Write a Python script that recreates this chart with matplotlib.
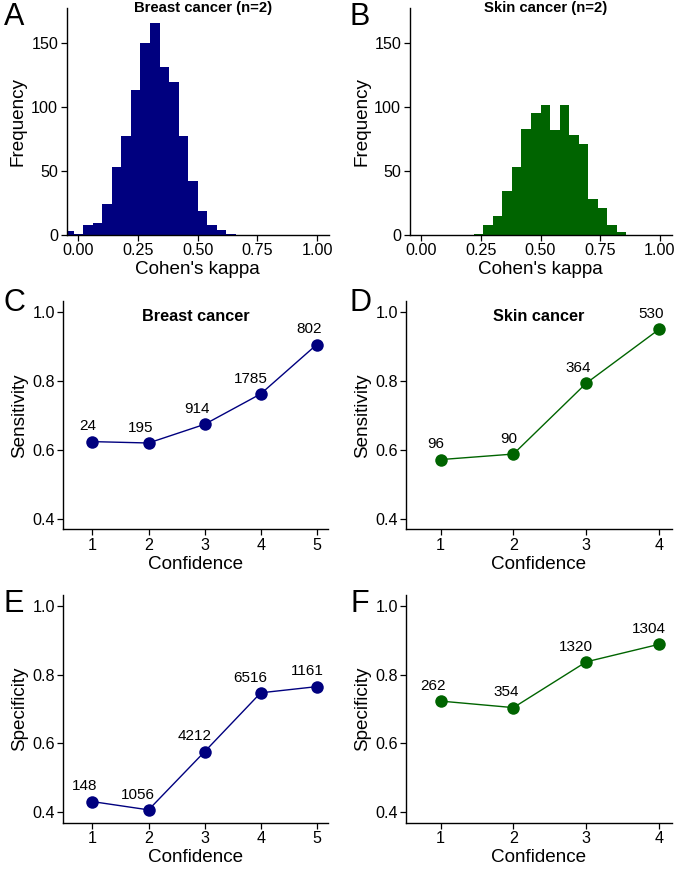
import numpy as np
import matplotlib
matplotlib.use("Agg")
import matplotlib.pyplot as plt

plt.rcParams["font.family"] = ["Liberation Sans", "DejaVu Sans"]

# ── data ───────────────────────────────────────────────────────────────────
BIN_W = 0.04
BREAST_EDGE0 = -0.06
BREAST_COUNTS = [3, 1, 8, 9, 24, 53, 77, 113, 150, 165, 131, 119, 77, 42, 19, 8, 4, 1]
SKIN_EDGE0 = 0.22
SKIN_COUNTS = [1, 8, 15, 34, 53, 83, 95, 101, 82, 101, 78, 71, 28, 21, 8, 2]

BREAST_CONF = [1, 2, 3, 4, 5]
BREAST_SENS = [0.624, 0.620, 0.674, 0.762, 0.905]
BREAST_SENS_N = [24, 195, 914, 1785, 802]
BREAST_SPEC = [0.431, 0.407, 0.576, 0.747, 0.765]
BREAST_SPEC_N = [148, 1056, 4212, 6516, 1161]

SKIN_CONF = [1, 2, 3, 4]
SKIN_SENS = [0.572, 0.588, 0.793, 0.949]
SKIN_SENS_N = [96, 90, 364, 530]
SKIN_SPEC = [0.723, 0.704, 0.837, 0.888]
SKIN_SPEC_N = [262, 354, 1320, 1304]

NAVY = "#00007f"
GREEN = "#006400"

W, H = 677, 869
fig = plt.figure(figsize=(W / 100, H / 100), dpi=100)


def px_axes(left, right, top, bottom):
    return fig.add_axes([left / W, 1 - bottom / H, (right - left) / W, (bottom - top) / H])


def style(ax):
    for s in ("top", "right"):
        ax.spines[s].set_visible(False)
    for s in ("left", "bottom"):
        ax.spines[s].set_linewidth(1.0)
        ax.spines[s].set_color("black")
    ax.tick_params(length=4, width=0.9, labelsize=11.6, colors="black", pad=2)


def letter(txt, x_px, y_px):
    fig.text(x_px / W, 1 - y_px / H, txt, fontsize=22, ha="center", va="center")


# ── histograms ─────────────────────────────────────────────────────────────
hist_specs = [
    (66.5, 329, BREAST_EDGE0, BREAST_COUNTS, NAVY, "Breast cancer (n=2)", "A", 14),
    (409.5, 671.5, SKIN_EDGE0, SKIN_COUNTS, GREEN, "Skin cancer (n=2)", "B", 360),
]
for left, right, e0, counts, col, title, let, lx in hist_specs:
    ax = px_axes(left, right, 8, 235)
    lefts = e0 + BIN_W * np.arange(len(counts))
    ax.bar(lefts, counts, width=BIN_W, align="edge", color=col, linewidth=0)
    ax.set_xlim(-0.05, 1.05)
    ax.set_ylim(0, 177)
    ax.set_xticks([0, 0.25, 0.5, 0.75, 1.0])
    ax.set_xticklabels(["0.00", "0.25", "0.50", "0.75", "1.00"])
    ax.set_yticks([0, 50, 100, 150])
    ax.set_xlabel("Cohen's kappa", fontsize=13.6, labelpad=2)
    ax.set_ylabel("Frequency", fontsize=13.6, labelpad=3)
    ax.text(0.52, 1.0, title, transform=ax.transAxes, ha="center", va="center",
            fontsize=10.7, fontweight="bold")
    style(ax)
    letter(let, lx, 17)

# ── line panels ────────────────────────────────────────────────────────────
line_specs = [
    (63.3, 328, 301.3, 529.4, BREAST_CONF, BREAST_SENS, BREAST_SENS_N, NAVY,
     "Sensitivity", "Breast cancer", "C", 14, 303, (0.48, 5.2)),
    (406.3, 671.5, 301.3, 529.4, SKIN_CONF, SKIN_SENS, SKIN_SENS_N, GREEN,
     "Sensitivity", "Skin cancer", "D", 360, 303, (0.53, 4.17)),
    (63.3, 328, 595.4, 822.6, BREAST_CONF, BREAST_SPEC, BREAST_SPEC_N, NAVY,
     "Specificity", None, "E", 14, 604, (0.48, 5.2)),
    (406.3, 671.5, 595.4, 822.6, SKIN_CONF, SKIN_SPEC, SKIN_SPEC_N, GREEN,
     "Specificity", None, "F", 360, 604, (0.53, 4.17)),
]
count_labels = []
for (left, right, top, bottom, xs, ys, ns, col, ylab, title,
     let, lx, ly, xlim) in line_specs:
    ax = px_axes(left, right, top, bottom)
    ax.plot(xs, ys, color=col, linewidth=1.0, marker="o", markersize=9,
            markeredgewidth=0, zorder=3)
    for x, y, n in zip(xs, ys, ns):
        t = ax.annotate(str(n), (x, y), xytext=(0, 11), textcoords="offset points",
                        ha="center", va="center", fontsize=11)
        count_labels.append(t)
    ax.set_xlim(*xlim)
    ax.set_ylim(0.37, 1.03)
    ax.set_xticks(xs)
    ax.set_yticks([0.4, 0.6, 0.8, 1.0])
    ax.set_yticklabels(["0.4", "0.6", "0.8", "1.0"])
    ax.set_xlabel("Confidence", fontsize=13.6, labelpad=2)
    ax.set_ylabel(ylab, fontsize=13.6, labelpad=3)
    if title:
        ax.text(0.5, 0.935, title, transform=ax.transAxes, ha="center", va="center",
                fontsize=11.7, fontweight="bold")
    style(ax)
    letter(let, lx, ly)

# count labels sit slightly left of their points (hjust ~0.8)
renderer = fig.canvas.get_renderer()
for t in count_labels:
    w_pt = t.get_window_extent(renderer).width * 72 / fig.dpi
    t.set_position((-0.3 * w_pt, 11))

fig.savefig("out.png", dpi=100, facecolor="white")
